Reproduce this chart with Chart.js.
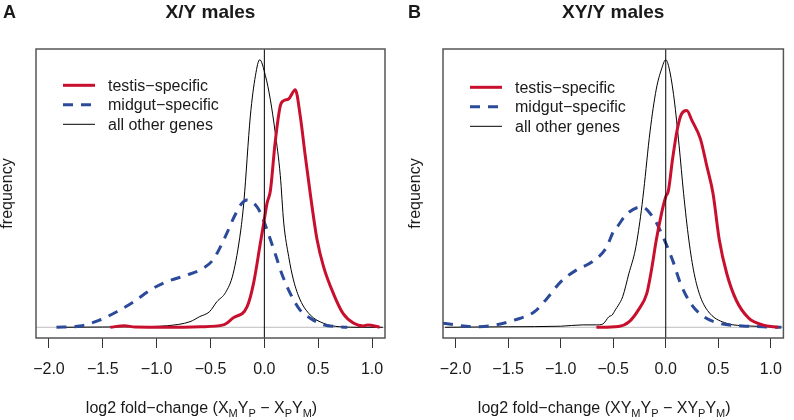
<!DOCTYPE html>
<html>
<head>
<meta charset="utf-8">
<script src="https://cdn.jsdelivr.net/npm/chart.js@4"></script>
<style>
  body { margin: 0; background: #fff; }
  #wrap { position: relative; width: 794px; height: 420px; }
  canvas { position: absolute; top: 0; }
</style>
</head>
<body>
<div id="wrap">
  <canvas id="chartA" width="397" height="420" style="left:0"></canvas>
  <canvas id="chartB" width="397" height="420" style="left:397px"></canvas>
</div>
<script>
// axis ticks
const xTicks = [-2.0, -1.5, -1.0, -0.5, 0.0, 0.5, 1.0];
const seriesNames = ['testis\u2212specific', 'midgut\u2212specific', 'all other genes'];

// panel A : X/Y males
const testisA_x = [-1.43, -1.3, -1.2, -0.9, -0.59, -0.38, -0.29, -0.16, -0.10, -0.037, -0.006, 0.025, 0.056, 0.10, 0.148, 0.18, 0.225, 0.287, 0.333, 0.38, 0.426, 0.49, 0.55, 0.64, 0.73, 0.83, 0.92, 0.96, 1.07];
const testisA_y = [0, 0.6, 0.1, 0, 0.2, 0.9, 3.5, 7.7, 16.5, 31.5, 38.9, 46.4, 51, 69, 82.8, 84.7, 85.3, 88.8, 79, 64, 50, 32.6, 22.6, 12.7, 5.2, 1.5, 0.5, 0.9, 0];
const midgutA_x = [-1.93, -1.71, -1.53, -1.37, -1.21, -1.06, -0.91, -0.72, -0.57, -0.48, -0.44, -0.35, -0.28, -0.21, -0.16, -0.068, -0.02, 0.025, 0.10, 0.16, 0.24, 0.33, 0.426, 0.55, 0.70, 0.77];
const midgutA_y = [0, 0.5, 2.7, 5.8, 9.6, 13.9, 17, 19.5, 22, 25, 27.6, 35, 41.3, 46.3, 47.6, 45, 41.3, 36.4, 27.6, 20.2, 12.7, 6.5, 3.4, 0.9, 0.2, 0];
const allA_x = [-1.9, -1.5, -1.2, -0.9, -0.69, -0.6, -0.51, -0.44, -0.36, -0.29, -0.22, -0.19, -0.13, -0.083, -0.043, 0.01, 0.056, 0.10, 0.148, 0.18, 0.226, 0.27, 0.333, 0.426, 0.55, 0.70, 0.9, 1.1];
const allA_y = [0, 0.1, 0.2, 0.6, 2.1, 4, 5.8, 9.6, 13, 20, 36, 47, 79, 94, 100, 94, 85, 73, 56.7, 39, 26.4, 17.7, 10.2, 4.6, 1.5, 0.2, 0, 0];

// panel B : XY/Y males
const testisB_x = [-0.66, -0.45, -0.35, -0.26, -0.18, -0.136, -0.09, -0.04, 0.0, 0.025, 0.065, 0.11, 0.15, 0.2, 0.25, 0.33, 0.39, 0.45, 0.51, 0.58, 0.67, 0.79, 0.92, 1.07];
const testisB_y = [0, 0.3, 2, 6.5, 12.7, 21.4, 32.6, 42.6, 48.8, 51, 62.9, 74, 79.7, 81, 77.2, 70.4, 60.4, 50, 32.6, 20.2, 10.2, 3.4, 0.9, 0];
const midgutB_x = [-2.12, -1.81, -1.62, -1.44, -1.25, -1.13, -1.0, -0.85, -0.70, -0.57, -0.49, -0.45, -0.38, -0.23, -0.105, -0.012, 0.065, 0.14, 0.236, 0.36, 0.51, 0.73, 0.92, 1.1];
const midgutB_y = [1.5, 0.2, 0.9, 2.7, 5.8, 10.8, 17, 21.4, 24.5, 29.5, 36.4, 38.2, 42, 45, 40.1, 32.6, 25.1, 16.4, 9, 4, 1.5, 0.5, 0.2, 0];
const allB_x = [-2.1, -1.5, -1.0, -0.79, -0.66, -0.6, -0.54, -0.51, -0.48, -0.45, -0.41, -0.35, -0.29, -0.24, -0.21, -0.15, -0.09, -0.04, 0, 0.034, 0.08, 0.127, 0.17, 0.22, 0.27, 0.33, 0.42, 0.58, 0.79, 1.1];
const allB_y = [0, 0.2, 0.4, 0.9, 0.9, 1.2, 4, 4.6, 6.5, 8.3, 11.4, 20.2, 28.9, 41.3, 51, 73, 89, 96.5, 100, 96.5, 85.3, 68, 50, 32.6, 20.2, 11.4, 5.2, 1.5, 0.5, 0.1];

const FONT = '"Liberation Sans", Arial, Helvetica, sans-serif';
const RED = '#c8102e';
const BLUE = '#2b4a9a';

function pts(xs, ys) {
  return xs.map((x, i) => ({ x: x, y: ys[i] }));
}

// box, zero lines, titles, legend and x title with subscripts
const decor = {
  id: 'decor',
  beforeDatasetsDraw(chart) {
    const ctx = chart.ctx, a = chart.chartArea;
    const y0 = chart.scales.y.getPixelForValue(0);
    ctx.save();
    ctx.strokeStyle = '#bdbdbd';
    ctx.lineWidth = 1;
    ctx.beginPath();
    ctx.moveTo(a.left, y0); ctx.lineTo(a.right, y0);
    ctx.stroke();
    ctx.restore();
  },
  afterDatasetsDraw(chart) {
    const ctx = chart.ctx, a = chart.chartArea;
    const p = chart.options.plugins.decor;
    const x0 = chart.scales.x.getPixelForValue(0);
    ctx.save();
    ctx.strokeStyle = '#000';
    ctx.lineWidth = 1;
    ctx.beginPath();
    ctx.moveTo(x0, a.top); ctx.lineTo(x0, a.bottom);
    ctx.stroke();

    ctx.strokeStyle = '#555';
    ctx.lineWidth = 1.5;
    ctx.strokeRect(a.left, a.top, a.right - a.left, a.bottom - a.top);

    // panel letter and title
    ctx.fillStyle = '#1a1a1a';
    ctx.textBaseline = 'alphabetic';
    ctx.font = 'bold 18px ' + FONT;
    ctx.textAlign = 'left';
    ctx.fillText(p.letter, p.letterX, 18);
    ctx.font = 'bold 19px ' + FONT;
    ctx.textAlign = 'center';
    ctx.fillText(p.title, (a.left + a.right) / 2, 18);

    // legend
    ctx.font = '16px ' + FONT;
    ctx.textAlign = 'left';
    ctx.textBaseline = 'middle';
    chart.data.datasets.forEach((ds, i) => {
      const y = a.top + p.legendTop + i * 19.5;
      ctx.strokeStyle = ds.borderColor;
      ctx.lineWidth = ds.borderWidth;
      ctx.setLineDash(ds.borderDash || []);
      ctx.beginPath();
      ctx.moveTo(a.left + 27, y); ctx.lineTo(a.left + 59, y);
      ctx.stroke();
      ctx.setLineDash([]);
      ctx.fillStyle = '#1a1a1a';
      ctx.fillText(ds.label, a.left + 72, y + 1);
    });

    // x axis title with subscripts
    const parts = p.xTitle;
    const big = '16px ' + FONT, small = '11px ' + FONT;
    let w = 0;
    parts.forEach(s => { ctx.font = s[1] ? small : big; w += ctx.measureText(s[0]).width; });
    let x = (a.left + a.right) / 2 - 9 - w / 2;
    const base = 413;
    ctx.textBaseline = 'alphabetic';
    parts.forEach(s => {
      ctx.font = s[1] ? small : big;
      ctx.fillText(s[0], x, s[1] ? base + 4 : base);
      x += ctx.measureText(s[0]).width;
    });
    ctx.restore();
  }
};

function makeChart(id, series, cfg) {
  return new Chart(document.getElementById(id), {
    type: 'line',
    data: {
      datasets: [
        { label: seriesNames[0], data: pts(series[0], series[1]), borderColor: RED, borderWidth: 3 },
        { label: seriesNames[1], data: pts(series[2], series[3]), borderColor: BLUE, borderWidth: 3, borderDash: [10, 8] },
        { label: seriesNames[2], data: pts(series[4], series[5]), borderColor: '#000', borderWidth: 1 }
      ]
    },
    options: {
      responsive: false,
      animation: false,
      cubicInterpolationMode: 'monotone',
      elements: { point: { radius: 0 }, line: { cubicInterpolationMode: 'monotone' } },
      layout: { padding: { top: 49, right: cfg.rightPad, left: 0, bottom: 0 } },
      plugins: {
        legend: { display: false },
        tooltip: { enabled: false },
        decor: cfg
      },
      scales: {
        x: {
          type: 'linear',
          min: -2.12,
          max: 1.12,
          afterBuildTicks: s => { s.ticks = xTicks.map(v => ({ value: v })); },
          afterFit: s => { s.height = 82; },
          ticks: {
            padding: 12,
            color: '#1a1a1a',
            font: { family: FONT, size: 16 },
            callback: v => (v < 0 ? '\u2212' : '') + Math.abs(v).toFixed(1)
          },
          grid: { drawOnChartArea: false, drawTicks: true, tickLength: 10, color: '#333', lineWidth: 1 },
          border: { display: false }
        },
        y: {
          type: 'linear',
          min: -4,
          max: 104,
          afterFit: s => { s.width = cfg.yWidth; },
          ticks: { display: false },
          grid: { display: false },
          border: { display: false },
          title: {
            display: true,
            text: 'frequency',
            color: '#1a1a1a',
            font: { family: FONT, size: 16, lineHeight: 1 },
            padding: { top: cfg.yTitlePad, bottom: 0 }
          }
        }
      }
    },
    plugins: [decor]
  });
}

makeChart('chartA', [testisA_x, testisA_y, midgutA_x, midgutA_y, allA_x, allA_y], {
  letter: 'A', letterX: 3, title: 'X/Y males',
  yWidth: 36, rightPad: 12, yTitlePad: 0, legendTop: 36.3,
  xTitle: [['log2 fold\u2212change (X', 0], ['M', 1], ['Y', 0], ['P', 1], [' \u2212 X', 0], ['P', 1], ['Y', 0], ['M', 1], [')', 0]]
});

makeChart('chartB', [testisB_x, testisB_y, midgutB_x, midgutB_y, allB_x, allB_y], {
  letter: 'B', letterX: 11, title: 'XY/Y males',
  yWidth: 46, rightPad: 2, yTitlePad: 10.7, legendTop: 38.3,
  xTitle: [['log2 fold\u2212change (XY', 0], ['M', 1], ['Y', 0], ['P', 1], [' \u2212 XY', 0], ['P', 1], ['Y', 0], ['M', 1], [')', 0]]
});
</script>
</body>
</html>
